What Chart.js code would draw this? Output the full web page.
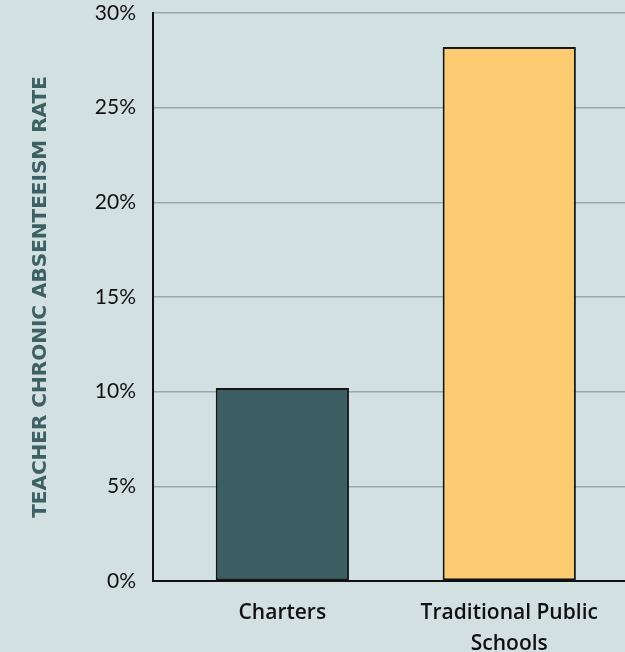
<!DOCTYPE html>
<html>
<head>
<meta charset="utf-8">
<script src="https://cdn.jsdelivr.net/npm/chart.js@4"></script>
<style>
  html, body { margin: 0; padding: 0; background: #d3e0e1; }
  #wrap { width: 625px; height: 652px; }
</style>
</head>
<body>
<div id="wrap"><canvas id="absenceChart" width="625" height="652"></canvas></div>
<script>
const categories = [['Charters'], ['Traditional Public', 'Schools']];
const absenteeism = [10.2, 28.2];
const yTicks = [0, 5, 10, 15, 20, 25, 30];
const barColors = ['#3a5e61', '#fdcc72'];

const ctx = document.getElementById('absenceChart').getContext('2d');

new Chart(ctx, {
    type: 'bar',
    data: {
        datasets: [{
            data: absenteeism.map((v, i) => ({ x: i + 1, y: v })),
            backgroundColor: barColors,
            borderColor: '#161616',
            borderWidth: 2,
            borderSkipped: false,
            categoryPercentage: 1,
            barPercentage: 0.587
        }]
    },
    options: {
        responsive: false,
        animation: false,
        layout: { padding: { top: 13, right: 0, left: 0, bottom: 0 } },
        plugins: {
            legend: { display: false },
            tooltip: { enabled: false }
        },
        scales: {
            x: {
                type: 'linear',
                offset: false,
                min: 0.43,
                max: 2.51,
                afterBuildTicks: axis => { axis.ticks = [{ value: 1 }, { value: 2 }]; },
                afterFit: axis => { axis.height = 71; axis.paddingLeft = 0; axis.paddingRight = 0; },
                grid: { display: false, drawTicks: false },
                border: { color: '#111', width: 2 },
                ticks: {
                    padding: 17,
                    color: '#111',
                    maxRotation: 0,
                    font: { family: 'Open Sans', size: 21, weight: '600', lineHeight: 1.45 },
                    callback: v => categories[v - 1] || ''
                }
            },
            y: {
                min: 0,
                max: 30,
                afterBuildTicks: axis => { axis.ticks = yTicks.map(v => ({ value: v })); },
                afterFit: axis => { axis.width = 153; axis.paddingTop = 0; axis.paddingBottom = 0; },
                grid: { color: '#9ea7a7', lineWidth: 1.5, drawTicks: false },
                border: { color: '#111', width: 2 },
                ticks: {
                    padding: 17,
                    color: '#111',
                    font: { family: 'Lato', size: 21 },
                    callback: v => v + '%'
                },
                title: {
                    display: true,
                    text: 'TEACHER CHRONIC ABSENTEEISM RATE',
                    color: '#3d6064',
                    padding: { top: 29, bottom: 0 },
                    font: { family: 'DejaVu Sans', size: 20, weight: 'bold' }
                }
            }
        }
    }
});
</script>
</body>
</html>
